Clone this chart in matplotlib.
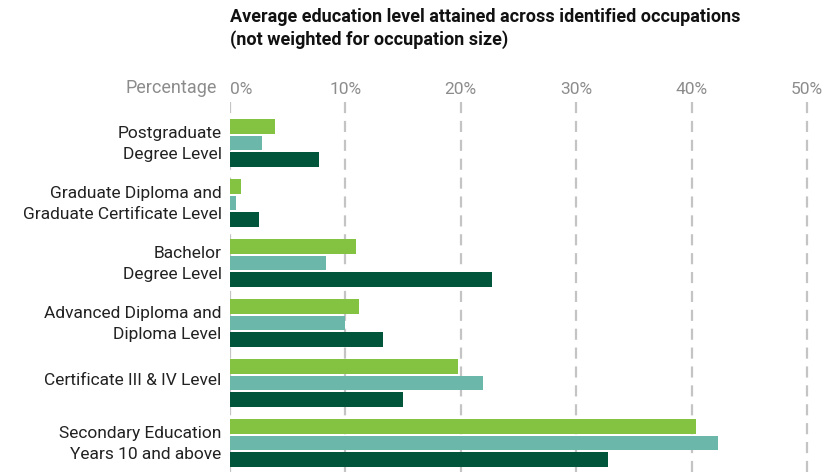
import numpy as np
import matplotlib.pyplot as plt

plt.rcParams["font.family"] = ["Roboto", "DejaVu Sans"]

categories = [
    "Postgraduate\nDegree Level",
    "Graduate Diploma and\nGraduate Certificate Level",
    "Bachelor\nDegree Level",
    "Advanced Diploma and\nDiploma Level",
    "Certificate III & IV Level",
    "Secondary Education\nYears 10 and above",
]
serie_a = [3.9, 0.95, 10.9, 11.2, 19.8, 40.4]
serie_b = [2.8, 0.5, 8.3, 10.0, 21.9, 42.3]
serie_c = [7.7, 2.5, 22.7, 13.3, 15.0, 32.8]
ticks = [0, 10, 20, 30, 40, 50]

cores = ["#84c341", "#6bb8aa", "#00553a"]

fig = plt.figure(figsize=(8.37, 4.72), dpi=100)
ax = fig.add_axes([230 / 837, 0, 600 / 837, 372 / 472])

y = np.arange(len(categories))
altura = 0.235
desloc = 0.275
for i, (valores, cor) in enumerate(zip([serie_a, serie_b, serie_c], cores)):
    ax.barh(y + (i - 1) * desloc, valores, height=altura, color=cor, zorder=3)

ax.set_xlim(0, 52)
ax.set_ylim(5.483, -0.717)

for t in ticks:
    ax.axvline(t, color="#c4c4c4", lw=1.6, ls=(0, (5, 3.5)), zorder=1)

ax.xaxis.tick_top()
ax.set_xticks(ticks)
ax.set_xticklabels([f"{t}%" for t in ticks], color="#8c8c8c", fontsize=12.5)
# primeiro rótulo alinhado à esquerda, os demais centralizados na grade
ax.get_xticklabels()[0].set_horizontalalignment("left")
ax.tick_params(axis="x", length=0, pad=2)
ax.set_yticks(y - 0.06)
ax.set_yticklabels(categories, fontsize=12.5, color="#222222", linespacing=1.5)
ax.tick_params(axis="y", length=0, pad=6)
for s in ax.spines.values():
    s.set_visible(False)

fig.text(217 / 837, 1 - 88 / 472, "Percentage", ha="right", va="center",
         color="#8c8c8c", fontsize=13)
fig.text(230 / 837, 1 - 17 / 472, "Average education level attained across identified occupations",
         ha="left", va="center", fontsize=13, fontweight="bold", color="#111111")
fig.text(230 / 837, 1 - 40 / 472, "(not weighted for occupation size)",
         ha="left", va="center", fontsize=13, fontweight="bold", color="#111111")

fig.savefig("out.png", dpi=100)
